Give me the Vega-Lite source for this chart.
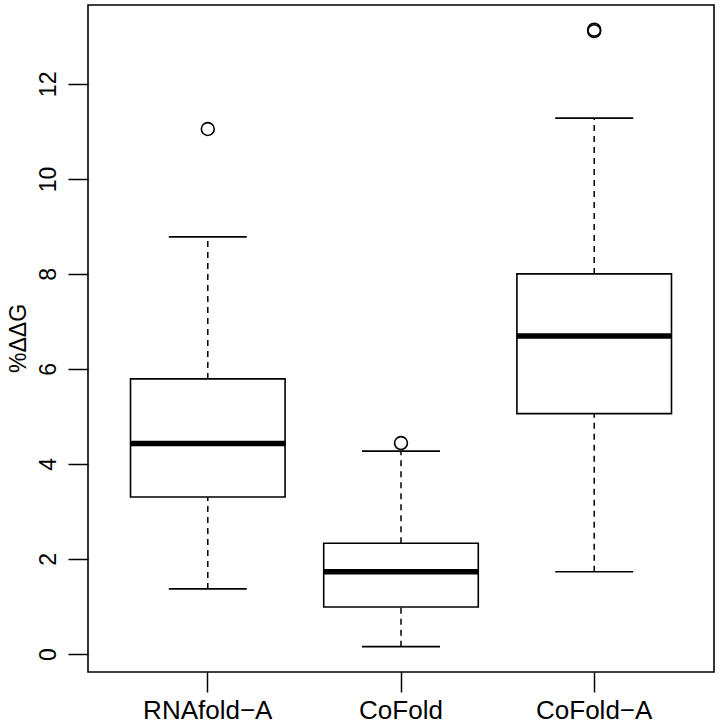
{
  "$schema": "https://vega.github.io/schema/vega-lite/v6.json",
  "autosize": {"type": "none"},
  "width": 626,
  "height": 667,
  "padding": {"left": 88, "top": 5, "right": 6, "bottom": 53},
  "background": "white",
  "config": {
    "view": {"stroke": "black", "strokeWidth": 1.6},
    "font": "Liberation Sans",
    "axis": {"grid": false, "domain": false, "tickColor": "black", "tickWidth": 1.5, "tickSize": 20, "labelColor": "black", "titleColor": "black", "labelFont": "Liberation Sans", "titleFont": "Liberation Sans", "labelFontSize": 23, "titleFontSize": 23, "titleFontWeight": "normal"}
  },
  "datasets": {
    "boxes": [
      {"method": "RNAfold−A", "lower": 1.37, "q1": 3.305, "median": 4.43, "q3": 5.79, "upper": 8.78},
      {"method": "CoFold", "lower": 0.155, "q1": 0.99, "median": 1.73, "q3": 2.33, "upper": 4.27},
      {"method": "CoFold−A", "lower": 1.73, "q1": 5.06, "median": 6.695, "q3": 8.0, "upper": 11.28}
    ],
    "outliers": [
      {"method": "RNAfold−A", "value": 11.05},
      {"method": "CoFold", "value": 4.44},
      {"method": "CoFold−A", "value": 13.11},
      {"method": "CoFold−A", "value": 13.14}
    ]
  },
  "encoding": {
    "x": {
      "field": "method", "type": "nominal",
      "scale": {"type": "band", "domain": ["RNAfold−A", "CoFold", "CoFold−A"], "paddingInner": 0, "paddingOuter": 0.12},
      "axis": {"title": null, "labelAngle": 0, "labelBaseline": "top", "labelPadding": 5, "labelFontSize": 26}
    }
  },
  "layer": [
    {
      "data": {"name": "boxes"},
      "mark": {"type": "rule", "stroke": "black", "strokeWidth": 1.5, "strokeDash": [6, 5]},
      "encoding": {
        "y": {"field": "q3", "type": "quantitative", "scale": {"domain": [-0.379, 13.66], "nice": false, "zero": false},
          "axis": {"title": "%ΔΔG", "values": [0, 2, 4, 6, 8, 10, 12], "labelAngle": 270, "labelAlign": "center", "labelBaseline": "bottom", "labelPadding": 8, "titleAngle": 270, "titleX": -70, "titleY": 333, "titleAlign": "center", "titleBaseline": "middle"}},
        "y2": {"field": "upper"}
      }
    },
    {
      "data": {"name": "boxes"},
      "mark": {"type": "rule", "stroke": "black", "strokeWidth": 1.5, "strokeDash": [6, 5]},
      "encoding": {
        "y": {"field": "lower", "type": "quantitative"},
        "y2": {"field": "q1"}
      }
    },
    {
      "data": {"name": "boxes"},
      "mark": {"type": "bar", "fill": "white", "stroke": "black", "strokeWidth": 1.6, "width": {"band": 0.8}},
      "encoding": {
        "y": {"field": "q1", "type": "quantitative"},
        "y2": {"field": "q3"}
      }
    },
    {
      "data": {"name": "boxes"},
      "mark": {"type": "tick", "color": "black", "size": 155, "thickness": 5.5, "opacity": 1},
      "encoding": {"y": {"field": "median", "type": "quantitative"}}
    },
    {
      "data": {"name": "boxes"},
      "mark": {"type": "tick", "color": "black", "size": 78, "thickness": 1.6, "opacity": 1},
      "encoding": {"y": {"field": "upper", "type": "quantitative"}}
    },
    {
      "data": {"name": "boxes"},
      "mark": {"type": "tick", "color": "black", "size": 78, "thickness": 1.6, "opacity": 1},
      "encoding": {"y": {"field": "lower", "type": "quantitative"}}
    },
    {
      "data": {"name": "outliers"},
      "mark": {"type": "point", "shape": "circle", "filled": false, "stroke": "black", "strokeWidth": 1.6, "size": 165, "opacity": 1},
      "encoding": {"y": {"field": "value", "type": "quantitative"}}
    }
  ]
}
